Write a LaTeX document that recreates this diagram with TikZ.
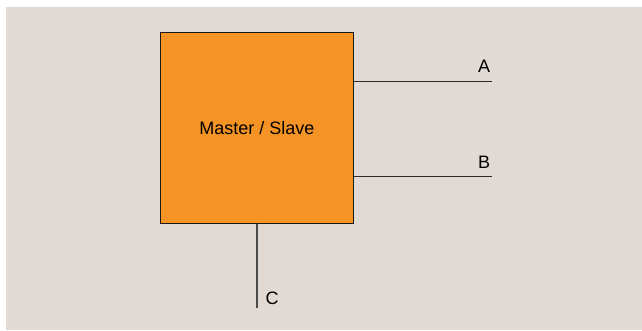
\documentclass[tikz,border=0pt]{standalone}
\usepackage{fontspec}
\setmainfont{Liberation Sans}
\definecolor{paper}{HTML}{E0D9D4}
\definecolor{boxorange}{HTML}{F59424}
\definecolor{wire}{HTML}{2A2A2A}
\definecolor{stub}{HTML}{4A4A4A}
\begin{document}
\begin{tikzpicture}[x=0.025cm,y=-0.025cm,
    unitbox/.style={draw=black!90, line width=0.7pt, fill=boxorange,
        minimum width=4.8cm, minimum height=4.75cm, inner sep=0pt,
        font=\fontsize{12.8}{15}\selectfont},
    wireline/.style={draw=wire, line width=0.8pt},
    pinlabel/.style={anchor=base, inner sep=0pt, font=\fontsize{12.8}{15}\selectfont}]

    % Page and background
    \useasboundingbox (0,0) rectangle (642,330);
    \fill[paper] (6,7) rectangle (642,330);

    % Master / slave block
    \node[unitbox] (master) at (257,128) {Master / Slave};

    % Free ends of the wires
    \coordinate (aEnd) at (492,81.3);
    \coordinate (bEnd) at (492,176.7);
    \coordinate (cEnd) at (257,308);

    % Wires
    \draw[wireline] (master.east |- aEnd) -- (aEnd);
    \draw[wireline] (master.east |- bEnd) -- (bEnd);
    \draw[wireline, draw=stub, line width=0.75pt] (master.south) -- (cEnd);

    % Wire labels
    \node[pinlabel] (labA) at (484,72.3) {A};
    \node[pinlabel] (labB) at (484,168.3) {B};
    \node[pinlabel] (labC) at (272,304) {C};

\end{tikzpicture}
\end{document}
